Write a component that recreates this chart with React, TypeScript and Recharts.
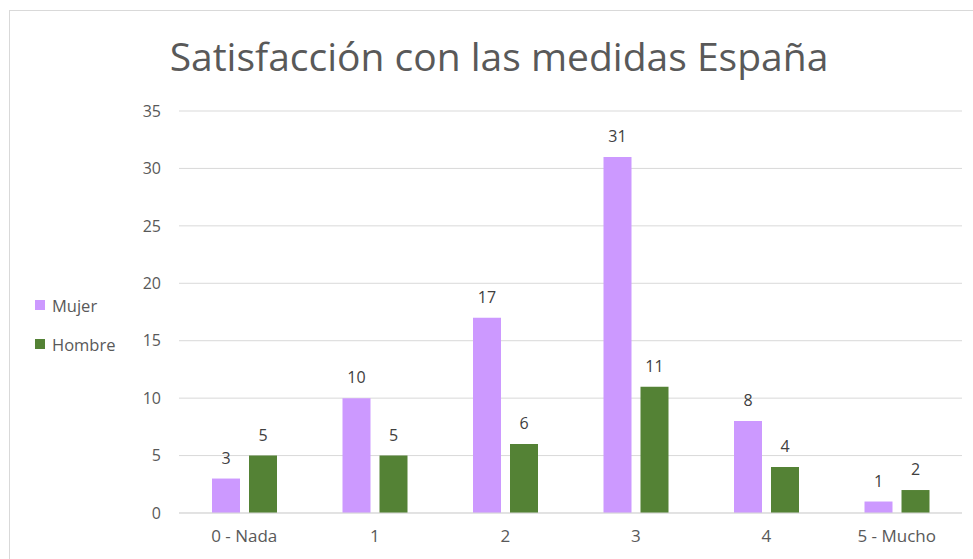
import React from 'react';
import { BarChart, Bar, XAxis, YAxis, CartesianGrid, LabelList } from 'recharts';

const categories = ['0 - Nada', '1', '2', '3', '4', '5 - Mucho'];
const mujer = [3, 10, 17, 31, 8, 1];
const hombre = [5, 5, 6, 11, 4, 2];
const yTicks = [0, 5, 10, 15, 20, 25, 30, 35];
const title = 'Satisfacción con las medidas España';

const data = categories.map((c, i) => ({ name: c, Mujer: mujer[i], Hombre: hombre[i] }));

const FONT = '"Open Sans", "Noto Sans", sans-serif';
const PURPLE = '#cc99ff';
const GREEN = '#548235';

const legendItems = [
  { name: 'Mujer', color: PURPLE },
  { name: 'Hombre', color: GREEN },
];

export default function App() {
  return (
    <div style={{ position: 'absolute', left: 0, top: 0, width: 973, height: 559, overflow: 'hidden', background: '#fff' }}>
      <div style={{ position: 'absolute', left: 9, top: 10, width: 1000, height: 600, border: '1px solid #d9d9d9', boxSizing: 'border-box' }} />
      <div style={{ position: 'absolute', left: 0, top: 28, width: 998, textAlign: 'center', fontFamily: FONT, fontSize: 39, color: '#595959', lineHeight: '56px' }}>
        {title}
      </div>
      <div style={{ position: 'absolute', left: 0, top: 0 }}>
        <BarChart width={973} height={559} data={data} margin={{ top: 111, right: 11, bottom: 16, left: 139 }} barGap={9} barSize={28}>
          <CartesianGrid vertical={false} stroke="#d9d9d9" strokeWidth={1} />
          <XAxis dataKey="name" axisLine={{ stroke: '#d9d9d9' }} tickLine={false} tickSize={0} tickMargin={17} height={30}
            tick={{ fill: '#595959', fontSize: 17, fontFamily: FONT }} />
          <YAxis domain={[0, 35]} ticks={yTicks} width={40} axisLine={false} tickLine={false} tickSize={0} tickMargin={18}
            tick={{ fill: '#595959', fontSize: 16, fontFamily: FONT }} />
          <Bar dataKey="Mujer" fill={PURPLE} isAnimationActive={false}>
            <LabelList dataKey="Mujer" position="top" offset={15} style={{ fill: '#404040', fontSize: 16, fontFamily: FONT }} />
          </Bar>
          <Bar dataKey="Hombre" fill={GREEN} isAnimationActive={false}>
            <LabelList dataKey="Hombre" position="top" offset={15} style={{ fill: '#404040', fontSize: 16, fontFamily: FONT }} />
          </Bar>
        </BarChart>
      </div>
      <div style={{ position: 'absolute', left: 35, top: 294, fontFamily: FONT, fontSize: 16.5, color: '#595959' }}>
        {legendItems.map((it, i) => (
          <div key={it.name} style={{ display: 'flex', alignItems: 'center', height: 22, marginBottom: i === 0 ? 17 : 0 }}>
            <span style={{ display: 'inline-block', width: 10, height: 10, background: it.color, marginRight: 7 }} />
            <span>{it.name}</span>
          </div>
        ))}
      </div>
    </div>
  );
}
